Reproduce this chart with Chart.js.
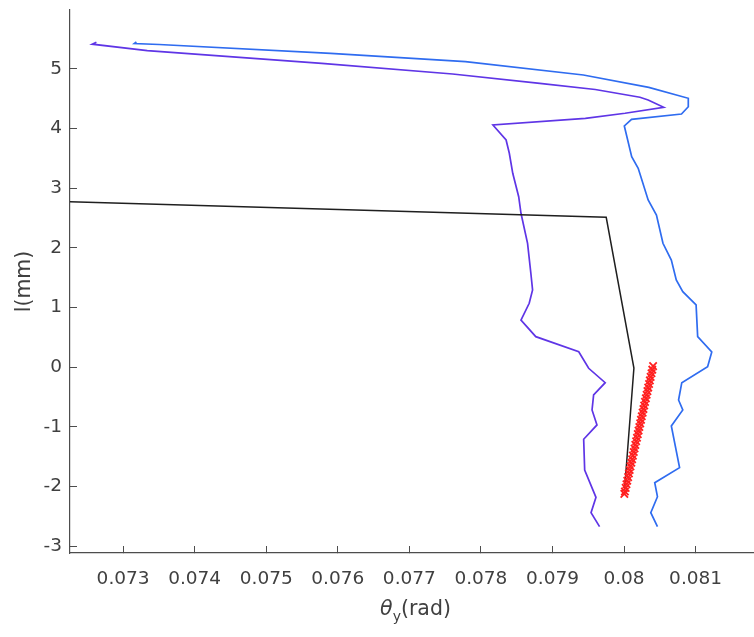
<!DOCTYPE html>
<html>
<head>
<meta charset="utf-8">
<script src="https://cdn.jsdelivr.net/npm/chart.js@4.4.1/dist/chart.umd.min.js"></script>
<style>
  html, body { margin: 0; padding: 0; overflow: hidden; background: #fff; }
  canvas { display: block; }
</style>
</head>
<body>
<canvas id="c" width="768" height="637" style="width:768px;height:637px"></canvas>
<script>
// Axis ranges and tick marks
const thetaRange = [0.072258, 0.081914];
const lRange = [-3.111, 5.985];
const thetaTicks = [0.073, 0.074, 0.075, 0.076, 0.077, 0.078, 0.079, 0.080, 0.081];
const thetaTickLabels = ['0.073', '0.074', '0.075', '0.076', '0.077', '0.078', '0.079', '0.08', '0.081'];
const lTicks = [-3, -2, -1, 0, 1, 2, 3, 4, 5];
const lTickLabels = ['-3', '-2', '-1', '0', '1', '2', '3', '4', '5'];

// Reference profile (black)
const blackTheta = [0.072258, 0.079751, 0.080138, 0.080007];
const blackL     = [2.774,    2.513,    -0.012,   -2.055];

// Profile 1 (violet)
const violetTheta = [0.072627, 0.072569, 0.073338, 0.075776, 0.077604, 0.078823, 0.079598, 0.080222,
  0.080337, 0.080554, 0.080014, 0.079460, 0.078168, 0.078352, 0.078397, 0.078445, 0.078528, 0.078560,
  0.078652, 0.078698, 0.078722, 0.078675, 0.078560, 0.078767, 0.079367, 0.079506, 0.079737, 0.079575,
  0.079553, 0.079622, 0.079436, 0.079450, 0.079608, 0.079539, 0.079658];
const violetL = [5.444, 5.412, 5.303, 5.092, 4.913, 4.757, 4.653, 4.523,
  4.477, 4.355, 4.255, 4.171, 4.059, 3.807, 3.585, 3.250, 2.858, 2.580,
  2.077, 1.575, 1.295, 1.072, 0.792, 0.513, 0.261, -0.017, -0.258, -0.464,
  -0.715, -0.966, -1.206, -1.720, -2.178, -2.436, -2.670];

// Profile 2 (blue)
const blueTheta = [0.073186, 0.073158, 0.073504, 0.075900, 0.077784, 0.079432, 0.080346, 0.080898,
  0.080898, 0.080803, 0.080105, 0.080004, 0.080107, 0.080198, 0.080337, 0.080453, 0.080544, 0.080661,
  0.080730, 0.080821, 0.081007, 0.081029, 0.081226, 0.081168, 0.080807, 0.080762, 0.080821, 0.080661,
  0.080776, 0.080429, 0.080467, 0.080374, 0.080467];
const blueL = [5.449, 5.424, 5.407, 5.260, 5.119, 4.896, 4.690, 4.506,
  4.365, 4.243, 4.154, 4.042, 3.528, 3.333, 2.802, 2.551, 2.077, 1.797,
  1.462, 1.266, 1.044, 0.513, 0.256, 0.010, -0.258, -0.548, -0.715, -0.983,
  -1.682, -1.933, -2.168, -2.436, -2.670];

// Measured points (red crosses)
const redTheta = [0.080406, 0.080395, 0.080384, 0.080372, 0.080361, 0.080350, 0.080338, 0.080327,
  0.080316, 0.080305, 0.080293, 0.080282, 0.080271, 0.080260, 0.080248, 0.080237, 0.080226, 0.080214,
  0.080203, 0.080192, 0.080181, 0.080169, 0.080158, 0.080147, 0.080136, 0.080124, 0.080113, 0.080102,
  0.080090, 0.080079, 0.080068, 0.080057, 0.080045, 0.080034, 0.080023, 0.080012, 0.080004];
const redL = [0.02, -0.04, -0.10, -0.16, -0.22, -0.28, -0.34, -0.40,
  -0.46, -0.52, -0.58, -0.64, -0.70, -0.76, -0.82, -0.88, -0.94, -1.00,
  -1.06, -1.12, -1.18, -1.24, -1.30, -1.36, -1.42, -1.48, -1.54, -1.60,
  -1.66, -1.72, -1.78, -1.84, -1.90, -1.96, -2.02, -2.08, -2.12];

const pts = (xs, ys) => xs.map((x, i) => ({ x: x, y: ys[i] }));

const FONT = 'DejaVu Sans';
const TEXT = '#404040';
const AXIS = '#4d4d4d';

// x-axis title with a subscript: θ_y(rad)
const xTitlePlugin = {
  id: 'xTitle',
  afterDraw(chart) {
    const ctx = chart.ctx;
    const area = chart.chartArea;
    const cx = (area.left + area.right) / 2;
    const base = 615;
    const parts = [
      { t: 'θ', f: 'oblique 20.5px "' + FONT + '"', dy: 0 },
      { t: 'y', f: '14px "' + FONT + '"', dy: 6 },
      { t: '(rad)', f: '20.5px "' + FONT + '"', dy: 0 }
    ];
    ctx.save();
    let total = 0;
    parts.forEach(p => { ctx.font = p.f; p.w = ctx.measureText(p.t).width; total += p.w; });
    let x = cx - total / 2;
    ctx.fillStyle = TEXT;
    ctx.textBaseline = 'alphabetic';
    ctx.textAlign = 'left';
    parts.forEach(p => { ctx.font = p.f; ctx.fillText(p.t, x, base + p.dy); x += p.w; });
    ctx.restore();
  }
};

new Chart(document.getElementById('c'), {
  type: 'scatter',
  data: {
    datasets: [
      { label: 'measured', data: pts(redTheta, redL), showLine: false, order: 0,
        pointStyle: 'crossRot', pointRadius: 5.2, pointBorderWidth: 1.8,
        pointBorderColor: '#ff1f1f', pointBackgroundColor: '#ff1f1f' },
      { label: 'reference', data: pts(blackTheta, blackL), showLine: true, order: 1,
        borderColor: '#1f1f1f', borderWidth: 1.5, pointRadius: 0, tension: 0 },
      { label: 'profile 1', data: pts(violetTheta, violetL), showLine: true, order: 2,
        borderColor: '#5f35e6', borderWidth: 1.7, pointRadius: 0, tension: 0 },
      { label: 'profile 2', data: pts(blueTheta, blueL), showLine: true, order: 3,
        borderColor: '#2f6cf0', borderWidth: 1.7, pointRadius: 0, tension: 0 }
    ]
  },
  options: {
    responsive: false,
    animation: false,
    events: [],
    layout: { padding: { top: 10, right: 1, bottom: 0, left: 0 } },
    plugins: { legend: { display: false }, tooltip: { enabled: false } },
    scales: {
      x: {
        type: 'linear',
        min: thetaRange[0],
        max: thetaRange[1],
        afterBuildTicks(s) { s.ticks = thetaTicks.map(v => ({ value: v })); },
        afterFit(s) { s.height = 84; s.paddingLeft = 0; s.paddingRight = 0; },
        grid: { drawOnChartArea: false, drawTicks: true, tickLength: -7, color: AXIS, tickColor: AXIS, lineWidth: 1 },
        border: { display: true, color: AXIS, width: 1.2 },
        ticks: {
          autoSkip: false, maxRotation: 0, minRotation: 0, padding: 22,
          color: TEXT, font: { family: FONT, size: 18.5 },
          callback: (v, i) => thetaTickLabels[i]
        }
      },
      y: {
        type: 'linear',
        min: lRange[0],
        max: lRange[1],
        afterBuildTicks(s) { s.ticks = lTicks.map(v => ({ value: v })); },
        afterFit(s) { s.width = 70; s.paddingTop = 0; s.paddingBottom = 0; },
        grid: { drawOnChartArea: false, drawTicks: true, tickLength: -7, color: AXIS, tickColor: AXIS, lineWidth: 1 },
        border: { display: true, color: AXIS, width: 1.2 },
        ticks: {
          autoSkip: false, padding: 15, color: TEXT, font: { family: FONT, size: 18.5 },
          callback: (v, i) => lTickLabels[i]
        },
        title: { display: true, text: 'l(mm)', color: TEXT, font: { family: FONT, size: 20.5 }, padding: { top: 12, bottom: 0 } }
      }
    }
  },
  plugins: [xTitlePlugin]
});
</script>
</body>
</html>
